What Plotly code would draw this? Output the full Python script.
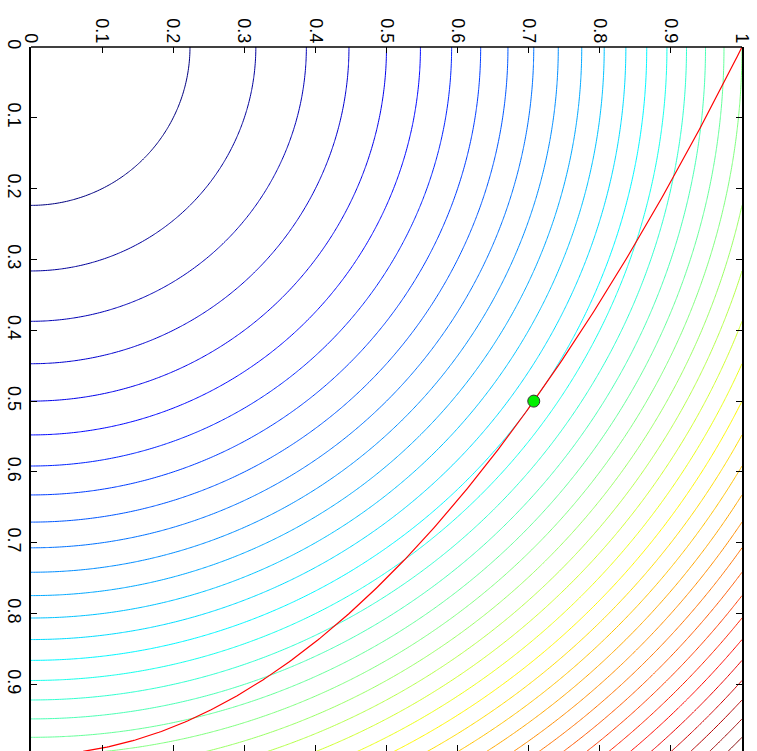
import numpy as np
import plotly.graph_objects as go

# Objective f(x, y) = x^2 + y^2 contour levels
level_start = 0.05
level_end = 1.95
level_step = 0.05

# Constraint curve y = 1 - x^2 and constrained optimum
opt_x = [0.7071]
opt_y = [0.5]

x_ticks = [0, 0.1, 0.2, 0.3, 0.4, 0.5, 0.6, 0.7, 0.8, 0.9, 1]
x_ticklabels = ["0", "0.1", "0.2", "0.3", "0.4", "0.5", "0.6", "0.7", "0.8", "0.9", "1"]
y_ticks = [0, 0.1, 0.2, 0.3, 0.4, 0.5, 0.6, 0.7, 0.8, 0.9, 1]
y_ticklabels = ["0", "0.1", "0.2", "0.3", "0.4", "0.5", "0.6", "0.7", "0.8", "0.9", "1"]

gx = np.linspace(0, 1, 301)
gy = np.linspace(0, 1, 301)
GX, GY = np.meshgrid(gx, gy)
Z = GX ** 2 + GY ** 2

cx = np.linspace(0, 1, 301)
cy = 1 - cx ** 2

jet = [
    [0.0, "rgb(0,0,128)"],
    [0.125, "rgb(0,0,255)"],
    [0.375, "rgb(0,255,255)"],
    [0.625, "rgb(255,255,0)"],
    [0.875, "rgb(255,0,0)"],
    [1.0, "rgb(128,0,0)"],
]

fig = go.Figure()
fig.add_trace(go.Contour(
    x=gx, y=gy, z=Z,
    contours=dict(start=level_start, end=level_end, size=level_step,
                  coloring="lines", showlabels=False),
    colorscale=jet, zmin=0, zmax=2, zauto=False,
    line=dict(width=1), showscale=False, hoverinfo="skip",
))
fig.add_trace(go.Scatter(
    x=cx, y=cy, mode="lines",
    line=dict(color="rgb(255,0,0)", width=1.2),
    showlegend=False, hoverinfo="skip",
))
fig.add_trace(go.Scatter(
    x=opt_x, y=opt_y, mode="markers",
    marker=dict(size=12, color="rgb(0,240,0)", line=dict(color="#333333", width=1)),
    showlegend=False,
))

font = dict(family="Liberation Sans, Arial, sans-serif", size=18, color="black")
fig.update_layout(
    width=757, height=751,
    margin=dict(l=31, r=15, t=47, b=0, pad=0),
    paper_bgcolor="white", plot_bgcolor="white",
    showlegend=False,
    font=font,
    shapes=[dict(type="line", xref="paper", yref="paper", x0=0, x1=1, y0=1, y1=1,
                 line=dict(color="black", width=1.5), layer="above")],
)
fig.update_xaxes(
    range=[0, 1], side="top", tickmode="array", tickvals=x_ticks, ticktext=x_ticklabels,
    tickangle=90, ticks="inside", ticklen=6, tickcolor="black", tickwidth=1,
    showline=False, mirror="ticks",
    showgrid=False, zeroline=False, tickfont=font,
)
fig.update_yaxes(
    range=[0.994, 0], tickmode="array", tickvals=y_ticks, ticktext=y_ticklabels,
    tickangle=90, ticks="inside", ticklen=6, tickcolor="black", tickwidth=1,
    showline=True, linecolor="black", linewidth=1.5, mirror="ticks",
    showgrid=False, zeroline=False, tickfont=font,
)

fig.write_html("out.html")
